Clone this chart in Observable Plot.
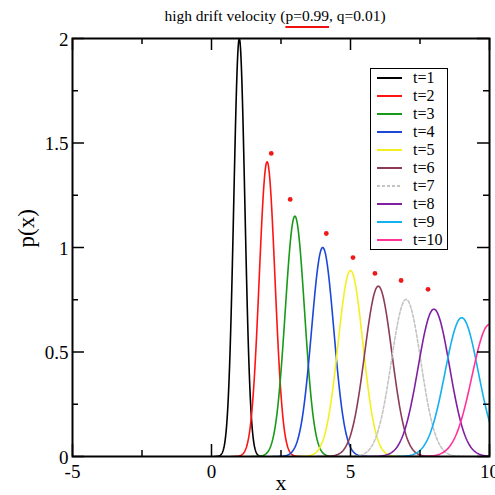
<!DOCTYPE html>
<html>
<head>
<meta charset="utf-8">
<script src="https://cdn.jsdelivr.net/npm/d3@7"></script>
<script src="https://cdn.jsdelivr.net/npm/@observablehq/plot@0.6"></script>
<style>
  html, body { margin: 0; padding: 0; background: #fff; }
  #wrap { position: relative; width: 495px; height: 495px; overflow: hidden; font-family: "Liberation Serif", "DejaVu Serif", serif; }
  #title { height: 30px; width: 495px; box-sizing: border-box; padding-left: 55px; text-align: center; font-size: 15.5px; line-height: 31px; color: #000; white-space: nowrap; }
  #title .mark { text-decoration: underline; text-decoration-color: #f01010; text-decoration-thickness: 2px; text-underline-offset: 5px; text-decoration-skip-ink: none; }
  #legend { position: absolute; left: 370px; top: 68px; width: 78px; height: 182px; box-sizing: border-box; border: 1px solid #000; background: #fff; }
  .row { height: 18px; line-height: 18px; font-size: 16px; position: relative; }
  .row .sw { position: absolute; left: 6px; top: 8px; width: 25px; height: 2px; }
  .row .lb { position: absolute; left: 42px; top: 0; }
</style>
</head>
<body>
<div id="wrap">
  <div id="title">high drift velocity (<span class="mark">p=0.99</span>, q=0.01)</div>
  <div id="chart"></div>
  <div id="legend"></div>
</div>
<script>
// ---- data ----
const times   = [1, 2, 3, 4, 5, 6, 7, 8, 9, 10];
const centers = [1, 2, 3, 4, 5, 6, 7, 8, 9, 10];
const peaks   = [2.0, 1.41, 1.15, 1.0, 0.89, 0.815, 0.752, 0.705, 0.664, 0.632];
const sigmas  = [0.20, 0.283, 0.347, 0.40, 0.448, 0.49, 0.53, 0.566, 0.60, 0.632];
const colors  = ["#000000", "#ff1414", "#189a18", "#1c48d8", "#f4f020", "#8c3c58", "#c4c4c4", "#8020a0", "#14b0f0", "#ff3399"];
const dashes  = [null, null, null, null, null, null, "3,2", null, null, null];
const labels  = times.map(t => "t=" + t);

// hand-drawn red annotation marks
const noteX = [2.15, 2.83, 4.13, 5.09, 5.88, 6.82, 7.79];
const noteY = [1.45, 1.23, 1.067, 0.952, 0.876, 0.842, 0.80];

const xMajor = [-5, 0, 5, 10];
const xMinor = [-2.5, 2.5, 7.5];
const yMajor = [0, 0.5, 1, 1.5, 2];
const yMinor = [0.25, 0.75, 1.25, 1.75];

// ---- build curves ----
const rows = [];
times.forEach((t, i) => {
  const c = centers[i], s = sigmas[i], p = peaks[i];
  const n = 180;
  for (let k = 0; k <= n; k++) {
    const x = c - 4.5 * s + (9 * s) * k / n;
    rows.push({t, x, y: p * Math.exp(-((x - c) ** 2) / (2 * s * s))});
  }
});
const notes = noteX.map((x, i) => ({x, y: noteY[i]}));

// layout
const W = 495, H = 465, mT = 8, mL = 72, mR = 6, mB = 39;
const fw = W - mL - mR, fh = H - mT - mB;
const MAJ = 12, MIN = 6;
const tk = {stroke: "#000", strokeWidth: 1.5};
const tickMarks = [
  Plot.ruleX(xMajor, {x: d => d, insetTop: fh - MAJ, ...tk}),
  Plot.ruleX(xMinor, {x: d => d, insetTop: fh - MIN, ...tk}),
  Plot.ruleX(xMajor, {x: d => d, insetBottom: fh - MAJ, ...tk}),
  Plot.ruleX(xMinor, {x: d => d, insetBottom: fh - MIN, ...tk}),
  Plot.ruleY(yMajor, {y: d => d, insetRight: fw - MAJ, ...tk}),
  Plot.ruleY(yMinor, {y: d => d, insetRight: fw - MIN, ...tk}),
  Plot.ruleY(yMajor, {y: d => d, insetLeft: fw - MAJ, ...tk}),
  Plot.ruleY(yMinor, {y: d => d, insetLeft: fw - MIN, ...tk})
];

const font = "Liberation Serif, DejaVu Serif, serif";
const chart = Plot.plot({
  width: W,
  height: H,
  marginTop: mT,
  marginLeft: mL,
  marginRight: mR,
  marginBottom: mB,
  style: {fontFamily: font, background: "#fff", overflow: "visible"},
  x: {domain: [-5, 10]},
  y: {domain: [0, 2]},
  marks: [
    ...times.map((t, i) => Plot.line(rows.filter(d => d.t === t), {
      x: "x", y: "y", stroke: colors[i], strokeWidth: 1.6,
      strokeDasharray: dashes[i] || undefined, clip: true
    })),
    Plot.dot(notes, {x: "x", y: "y", r: 2.4, fill: "#f01818", stroke: "none"}),
    ...tickMarks,
    Plot.axisX(xMajor, {anchor: "bottom", tickSize: 0, tickPadding: 8, fontSize: 19, label: null, tickFormat: d => String(d)}),
    Plot.axisY(yMajor, {anchor: "left", tickSize: 0, tickPadding: 4, fontSize: 19, label: null, dy: 1, tickFormat: d => String(d)}),
    Plot.frame({stroke: "#000", strokeWidth: 2}),
    Plot.text(["x"], {frameAnchor: "bottom", dy: 26, fontSize: 22, lineAnchor: "middle", fill: "#000"}),
    Plot.text(["p(x)"], {frameAnchor: "left", dx: -46, rotate: -90, fontSize: 23, lineAnchor: "middle", fill: "#000"})
  ]
});
document.getElementById("chart").appendChild(chart);

// ---- legend ----
const legend = document.getElementById("legend");
times.forEach((t, i) => {
  const row = document.createElement("div");
  row.className = "row";
  const sw = document.createElement("div");
  sw.className = "sw";
  if (dashes[i]) {
    sw.style.background = `repeating-linear-gradient(90deg, ${colors[i]} 0 3px, transparent 3px 5px)`;
  } else {
    sw.style.background = colors[i];
  }
  const lb = document.createElement("div");
  lb.className = "lb";
  lb.textContent = labels[i];
  row.appendChild(sw);
  row.appendChild(lb);
  legend.appendChild(row);
});
</script>
</body>
</html>
